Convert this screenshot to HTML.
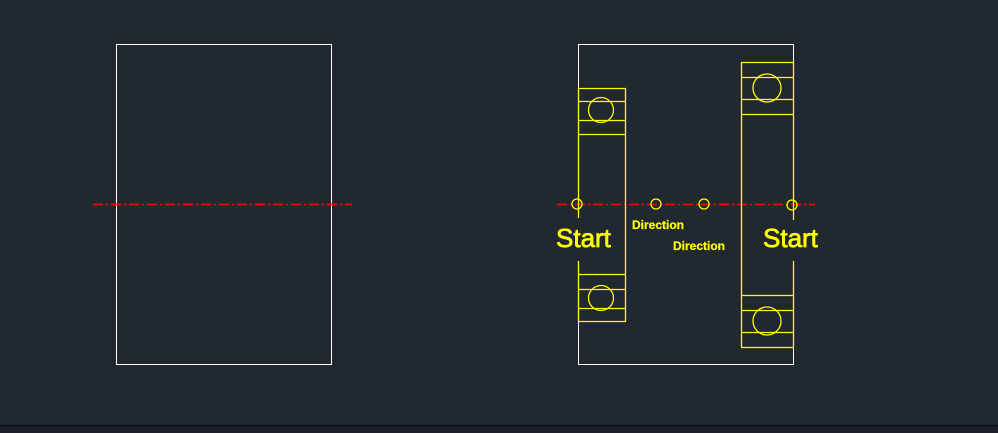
<!DOCTYPE html>
<html><head><style>
html,body{margin:0;padding:0;background:#212830;}
svg{display:block}
</style></head><body>
<svg width="998" height="433" viewBox="0 0 998 433" xmlns="http://www.w3.org/2000/svg">
<rect width="998" height="433" fill="#212830"/>
<rect x="0" y="425" width="998" height="8" fill="#1d1f26"/>
<line x1="0" y1="425.5" x2="998" y2="425.5" stroke="#0a0c10" stroke-width="1.5"/>
<g fill="none" stroke="#ffffff" stroke-width="1">
<rect x="116.5" y="44.5" width="215" height="320"/>
<polyline points="578.5,88 578.5,44.5 793.5,44.5 793.5,62"/>
<polyline points="578.5,322 578.5,364.5 793.5,364.5 793.5,347"/>
</g>
<g stroke="#ff0000" stroke-width="1.8" stroke-dasharray="10 3 2 3">
<line x1="93" y1="204.5" x2="352" y2="204.5"/>
<line x1="557" y1="204.5" x2="815" y2="204.5"/>
</g>
<g fill="none" stroke="#ffff00" stroke-width="1.3">
<line x1="578.5" y1="88" x2="578.5" y2="218"/>
<line x1="625.5" y1="88" x2="625.5" y2="322"/>
<line x1="578.5" y1="261" x2="578.5" y2="322"/>
<line x1="578" y1="88.5" x2="626" y2="88.5"/>
<line x1="578" y1="101.5" x2="626" y2="101.5"/>
<line x1="578" y1="120.5" x2="626" y2="120.5"/>
<line x1="578" y1="134.5" x2="626" y2="134.5"/>
<circle cx="601" cy="110" r="12.5"/>
<line x1="578" y1="274.5" x2="626" y2="274.5"/>
<line x1="578" y1="289.5" x2="626" y2="289.5"/>
<line x1="578" y1="308.5" x2="626" y2="308.5"/>
<line x1="578" y1="321.5" x2="626" y2="321.5"/>
<circle cx="601" cy="298" r="12.5"/>
<line x1="741.5" y1="62" x2="741.5" y2="347"/>
<line x1="793.5" y1="62" x2="793.5" y2="220"/>
<line x1="793.5" y1="261" x2="793.5" y2="347"/>
<line x1="741" y1="62.5" x2="794" y2="62.5"/>
<line x1="741" y1="77.5" x2="794" y2="77.5"/>
<line x1="741" y1="99.5" x2="794" y2="99.5"/>
<line x1="741" y1="114.5" x2="794" y2="114.5"/>
<circle cx="767" cy="88" r="14"/>
<line x1="741" y1="295.5" x2="794" y2="295.5"/>
<line x1="741" y1="310.5" x2="794" y2="310.5"/>
<line x1="741" y1="332.5" x2="794" y2="332.5"/>
<line x1="741" y1="347.5" x2="794" y2="347.5"/>
<circle cx="767" cy="321" r="14"/>
<circle cx="577" cy="204" r="5"/>
<circle cx="656" cy="204" r="5"/>
<circle cx="704" cy="204" r="5"/>
<circle cx="792" cy="205" r="5"/>
</g>
<g fill="#ffff00" stroke="#ffff00" font-family="Liberation Sans, sans-serif">
<text x="556" y="247" font-size="26" stroke-width="0.7">Start</text>
<text x="763" y="247" font-size="26" stroke-width="0.7">Start</text>
<text x="632" y="229" font-size="12" font-weight="bold" stroke-width="0.2">Direction</text>
<text x="673" y="250" font-size="12" font-weight="bold" stroke-width="0.2">Direction</text>
</g>
</svg>
</body></html>
